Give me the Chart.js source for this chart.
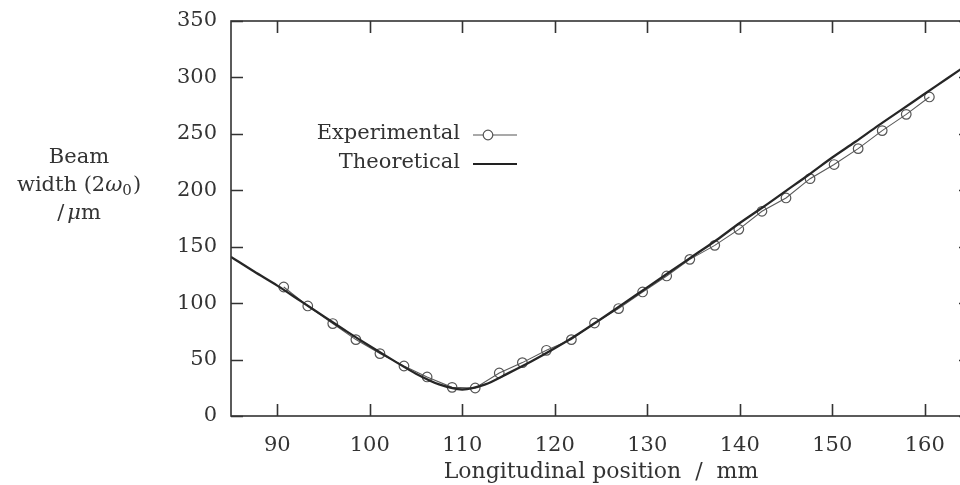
<!DOCTYPE html>
<html>
<head>
<meta charset="utf-8">
<script src="https://cdn.jsdelivr.net/npm/chart.js@4.4.1/dist/chart.umd.min.js"></script>
<style>
  html, body { margin: 0; padding: 0; background: #ffffff; overflow: hidden; }
  #wrap { position: relative; width: 980px; height: 485px; }
</style>
</head>
<body>
<div id="wrap"><canvas id="c"></canvas></div>
<script>
// ---- Data ----
const expX = [90.7, 93.3, 96.0, 98.5, 101.1, 103.7, 106.2, 108.9, 111.4, 114.0, 116.5, 119.1, 121.8, 124.3,
              126.9, 129.5, 132.1, 134.6, 137.3, 139.9, 142.4, 145.0, 147.6, 150.2, 152.8, 155.4, 158.0, 160.5];
const expY = [114.3, 97.5, 81.9, 67.7, 55.3, 44.3, 34.6, 25.4, 24.8, 38.1, 47.3, 58.2, 67.7, 82.4,
              95.2, 109.9, 124.1, 138.8, 151.2, 165.4, 181.4, 193.2, 210.3, 222.8, 236.9, 252.9, 267.3, 282.7];
const theoX = [85, 87.5, 90, 92.5, 95, 97.5, 100, 102.5, 105, 107.5, 110, 112.5, 115, 117.5, 120, 122.5,
               125, 127.5, 130, 132.5, 135, 137.5, 140, 142.5, 145, 147.5, 150, 152.5, 155, 157.5, 160, 162.5, 165];
const theoY = [141, 128, 115.5, 102, 88.5, 75, 62, 49.5, 37.5, 28, 23.5, 28, 38, 48.5, 60, 72.5,
               86, 100, 114, 128, 142, 156, 171, 185, 199.5, 214, 229, 243, 257.5, 271.5, 285.5, 299.5, 313.5];
const xTickValues = [90, 100, 110, 120, 130, 140, 150, 160];
const yTickValues = [0, 50, 100, 150, 200, 250, 300, 350];
const seriesLabels = ["Experimental", "Theoretical"];
const xTitle = "Longitudinal position  /  mm";
const yTitleLines = ["Beam", "width (2ω0)", "/μm"];

// ---- Build datasets ----
const expPts = expX.map((x, i) => ({ x: x, y: expY[i] }));
const theoPts = theoX.map((x, i) => ({ x: x, y: theoY[i] }));

const FONT = "'DejaVu Serif', serif";
const INK = "#333333";

const framePlugin = {
  id: 'frame',
  afterDraw(chart) {
    const ctx = chart.ctx;
    const a = chart.chartArea;
    const xs = chart.scales.x, ys = chart.scales.y;
    ctx.save();
    ctx.strokeStyle = INK;
    ctx.lineWidth = 1.6;
    ctx.strokeRect(a.left, a.top, a.right - a.left, a.bottom - a.top);
    // inward ticks
    const TL = 12;
    xTickValues.forEach(v => {
      const px = Math.round(xs.getPixelForValue(v)) + 0.5;
      ctx.beginPath();
      ctx.moveTo(px, a.bottom); ctx.lineTo(px, a.bottom - TL);
      ctx.moveTo(px, a.top); ctx.lineTo(px, a.top + TL);
      ctx.stroke();
    });
    yTickValues.forEach(v => {
      const py = Math.round(ys.getPixelForValue(v)) + 0.5;
      ctx.beginPath();
      ctx.moveTo(a.left, py); ctx.lineTo(a.left + TL, py);
      ctx.moveTo(a.right, py); ctx.lineTo(a.right - TL, py);
      ctx.stroke();
    });

    // legend (drawn inside plot, text right-aligned, symbol to the right)
    ctx.fillStyle = INK;
    ctx.font = "21px " + FONT;
    ctx.textAlign = 'right';
    ctx.textBaseline = 'middle';
    const lx = 460, ly1 = 134, ly2 = 163;
    ctx.fillText(chart.data.datasets[0].label, lx, ly1);
    ctx.fillText(chart.data.datasets[1].label, lx, ly2);
    ctx.strokeStyle = "#555555";
    ctx.lineWidth = 1.2;
    ctx.beginPath(); ctx.moveTo(473, ly1 + 1); ctx.lineTo(517, ly1 + 1); ctx.stroke();
    ctx.fillStyle = "#ffffff";
    ctx.beginPath(); ctx.arc(488, ly1 + 1, 4.8, 0, Math.PI * 2); ctx.fill(); ctx.stroke();
    ctx.strokeStyle = "#222222";
    ctx.lineWidth = 2.2;
    ctx.beginPath(); ctx.moveTo(473, ly2 + 1); ctx.lineTo(517, ly2 + 1); ctx.stroke();

    // y-axis title (three centered lines)
    ctx.fillStyle = INK;
    ctx.textBaseline = 'alphabetic';
    const cx = 79;
    ctx.font = "21px " + FONT;
    ctx.textAlign = 'center';
    ctx.fillText(yTitleLines[0], cx, 163);
    const l2 = yTitleLines[1];
    const a1 = l2.slice(0, l2.indexOf('ω'));
    const om = 'ω';
    const subDigit = l2.slice(l2.indexOf('ω') + 1).replace(')', '');
    ctx.textAlign = 'left';
    const fN = "21px " + FONT, fI = "italic 21px " + FONT, fS = "15px " + FONT;
    ctx.font = fN; const w1 = ctx.measureText(a1).width; const wp = ctx.measureText(')').width;
    ctx.font = fI; const w2 = ctx.measureText(om).width;
    ctx.font = fS; const w3 = ctx.measureText(subDigit).width;
    const total = w1 + w2 + w3 + wp + 1;
    let x0 = cx - total / 2;
    const b2 = 191;
    ctx.font = fN; ctx.fillText(a1, x0, b2); x0 += w1;
    ctx.font = fI; ctx.fillText(om, x0, b2); x0 += w2;
    ctx.font = fS; ctx.fillText(subDigit, x0, b2 + 4); x0 += w3 + 1;
    ctx.font = fN; ctx.fillText(')', x0, b2);
    const l3 = yTitleLines[2];
    const p1 = l3.slice(0, 1), p2 = l3.slice(1, 2), p3 = l3.slice(2);
    ctx.font = fN; const v1 = ctx.measureText(p1).width; const v3 = ctx.measureText(p3).width;
    ctx.font = fI; const v2 = ctx.measureText(p2).width;
    let x1 = cx - (v1 + v2 + v3 + 3) / 2;
    const b3 = 219;
    ctx.font = fN; ctx.fillText(p1, x1, b3); x1 += v1 + 3;
    ctx.font = fI; ctx.fillText(p2, x1, b3); x1 += v2;
    ctx.font = fN; ctx.fillText(p3, x1, b3);
    ctx.restore();
  }
};

new Chart(document.getElementById('c'), {
  type: 'scatter',
  data: {
    datasets: [
      {
        label: seriesLabels[0],
        data: expPts,
        showLine: true,
        borderColor: '#5a5a5a',
        borderWidth: 1.1,
        pointRadius: 4.8,
        pointBorderWidth: 1.2,
        pointBorderColor: '#555555',
        pointBackgroundColor: 'rgba(255,255,255,0)',
        tension: 0,
        order: 2
      },
      {
        label: seriesLabels[1],
        data: theoPts,
        showLine: true,
        borderColor: '#262626',
        borderWidth: 2.3,
        pointRadius: 0,
        cubicInterpolationMode: 'monotone',
        order: 1
      }
    ]
  },
  options: {
    responsive: true,
    maintainAspectRatio: false,
    animation: false,
    layout: { padding: { top: 21, right: 9, left: 0, bottom: 0 } },
    plugins: { legend: { display: false }, tooltip: { enabled: false } },
    scales: {
      x: {
        type: 'linear',
        min: 85, max: 165,
        afterFit(s) { s.height = 69; s.paddingLeft = 0; s.paddingRight = 0; },
        afterBuildTicks(s) { s.ticks = xTickValues.map(v => ({ value: v })); },
        grid: { display: false, drawTicks: false },
        border: { display: false },
        ticks: { color: INK, font: { family: FONT, size: 21 }, padding: 17, maxRotation: 0 },
        title: { display: true, text: xTitle, color: INK, font: { family: FONT, size: 22 }, padding: { top: -4, bottom: 0 } }
      },
      y: {
        type: 'linear',
        min: 0, max: 350,
        afterFit(s) { s.width = 231; s.paddingTop = 0; s.paddingBottom = 0; },
        afterBuildTicks(s) { s.ticks = yTickValues.map(v => ({ value: v })); },
        grid: { display: false, drawTicks: false },
        border: { display: false },
        ticks: { color: INK, font: { family: FONT, size: 21 }, padding: 14 }
      }
    }
  },
  plugins: [framePlugin]
});
</script>
</body>
</html>
